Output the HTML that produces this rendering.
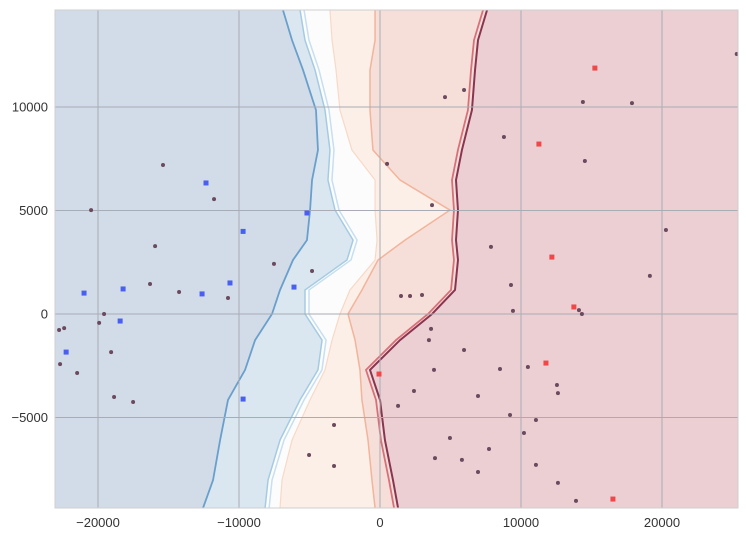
<!DOCTYPE html>
<html><head><meta charset="utf-8"><style>
body{margin:0;background:#fff;font-family:"Liberation Sans",sans-serif}
svg text{font-family:"Liberation Sans",sans-serif;font-size:13px;fill:#333}
</style></head><body>
<svg id="c" width="746" height="542"></svg>
<script>
const yLevels=[14680,13230,11790,9850,7920,6470,5020,3570,2610,1160,0,-1260,-2700,-4150,-6090,-8020,-9370];
const blueBoundary=[-6880,-6240,-5460,-4540,-4400,-4820,-4960,-5180,-6170,-7090,-7660,-8860,-9570,-10780,-11340,-11840,-12550];
const lightBlueBoundary=[-5670,-5320,-4610,-3900,-3550,-3690,-3190,-1910,-2340,-5320,-5320,-4110,-4400,-5670,-7090,-7940,-8150];
const whiteBoundary=[-3550,-3400,-3120,-2840,-1990,-350,-350,-210,-350,-2130,-2840,-3400,-3900,-4960,-6240,-6950,-7090];
const orangeBoundary=[-350,-350,-710,-710,-500,1420,4960,1770,-140,-1280,-2270,-1770,-1420,-1280,-850,-570,-350];
const redBoundary=[7590,6950,6740,6520,5810,5390,5530,5390,5530,5320,3690,1420,-710,0,350,920,1280];
const blueSqX=[-12340,-9710,-20990,-18220,-18430,-22260,-12620,-10640,-5180,-6100,-9710];
const blueSqY=[6330,3990,1010,1210,-340,-1840,970,1500,4880,1300,-4110];
const redSqX=[11270,15240,12190,13750,11770,16520,-70];
const redSqY=[8210,11880,2750,340,-2370,-8940,-2900];
const dotX=[-15390,-11770,-15950,-20490,-16310,-14250,-10780,-7520,-4820,-19570,-19920,-22760,-22400,-22690,-21480,-19070,-18860,-17510,4610,5960,14390,17870,8790,14530,500,3690,20280,7870,19140,9290,1490,2130,2980,3620,3470,5960,9430,14110,14320,3830,2410,1280,6950,10490,8510,12550,12620,9220,10210,11060,4960,3900,5810,7730,6950,11060,13900,12620,-5030,-3260,-3260,25300];
const dotY=[7200,5550,3280,5020,1450,1060,770,2420,2080,0,-430,-770,-680,-2420,-2850,-1840,-4010,-4250,10480,10820,10240,10190,8550,7390,7250,5260,4060,3240,1840,1400,870,870,920,-720,-1260,-1740,150,190,0,-2700,-3720,-4440,-3960,-2560,-2660,-3430,-3820,-4880,-5750,-5120,-5990,-6960,-7050,-6520,-7630,-7290,-9030,-8160,-6810,-7340,-5360,12560];
const xTicks=[-20000,-10000,0,10000,20000];
const yTicks=[-5000,0,5000,10000];
const X0=55,X1=738,Y0=10,Y1=508;
const sx=v=>380+v*0.0141, sy=v=>314-v*0.0207;
const svg=document.getElementById('c');const NS='http://www.w3.org/2000/svg';
function mk(t,a,p){const e=document.createElementNS(NS,t);for(const k in a)e.setAttribute(k,a[k]);(p||svg).appendChild(e);return e;}
const defs=mk('defs',{});const cp=mk('clipPath',{id:'cl'},defs);mk('rect',{x:X0,y:Y0,width:X1-X0,height:Y1-Y0},cp);
const g=mk('g',{'clip-path':'url(#cl)'});


const bg=mk('rect',{x:X0,y:Y0,width:X1-X0,height:Y1-Y0,fill:'#ebcfd3'},g);


function pts(b,off){return b.map((v,i)=>(sx(v)+(off||0))+','+sy(yLevels[i])).join(' ');}
const regions=[[redBoundary,'#f6ded9','salmon-region'],[orangeBoundary,'#fbefe8','pale-orange-region'],[whiteBoundary,'#fcfcfc','white-region'],[lightBlueBoundary,'#dae7f1','light-blue-region'],[blueBoundary,'#d2dce9','dark-blue-region']];
regions.forEach(r=>{const p=mk('polygon',{points:'0,-20 '+pts(r[0])+' 0,560'.replace('0,560','0,560'),fill:r[1]},g);
p.setAttribute('points','0,-20 '+sx(r[0][0])+',-20 '+pts(r[0])+' '+sx(r[0][r[0].length-1])+',560 0,560');

});
const lines=[[orangeBoundary,'#f2b49b',1.5,0],[whiteBoundary,'#f8d9c8',1.2,0],[lightBlueBoundary,'#c7dff0',1.5,4],[lightBlueBoundary,'#a5cbe2',1.5,0],[blueBoundary,'#6a9fcb',1.8,0],[redBoundary,'#d8707a',1.8,-4],[redBoundary,'#8a3550',2,0]];
lines.forEach(l=>{const e=mk('polyline',{points:pts(l[0],l[3]),fill:'none',stroke:l[1],'stroke-width':l[2]},g);

});
xTicks.forEach(v=>{const e=mk('line',{x1:sx(v),x2:sx(v),y1:Y0,y2:Y1,stroke:'#a8adb5','stroke-width':1},g);

});
yTicks.forEach(v=>{const e=mk('line',{x1:X0,x2:X1,y1:sy(v),y2:sy(v),stroke:'#a8adb5','stroke-width':1},g);

});
dotX.forEach((v,i)=>{const e=mk('circle',{cx:sx(v),cy:sy(dotY[i]),r:2,fill:'#6b4a5e'},g);

});
blueSqX.forEach((v,i)=>{const e=mk('rect',{x:sx(v)-2.5,y:sy(blueSqY[i])-2.5,width:5,height:5,fill:'#4a5ff0'},g);

});
redSqX.forEach((v,i)=>{const e=mk('rect',{x:sx(v)-2.5,y:sy(redSqY[i])-2.5,width:5,height:5,fill:'#f04848'},g);

});
const fr=mk('rect',{x:X0,y:Y0,width:X1-X0,height:Y1-Y0,fill:'none',stroke:'#cfcfcf'});


xTicks.forEach(v=>{const t=mk('text',{x:sx(v),y:527,'text-anchor':'middle'});t.textContent=v<0?'\u2212'+(-v):v;

});
yTicks.forEach(v=>{const t=mk('text',{x:48,y:sy(v)+4.5,'text-anchor':'end'});t.textContent=v<0?'\u2212'+(-v):v;

});
</script>
</body></html>
